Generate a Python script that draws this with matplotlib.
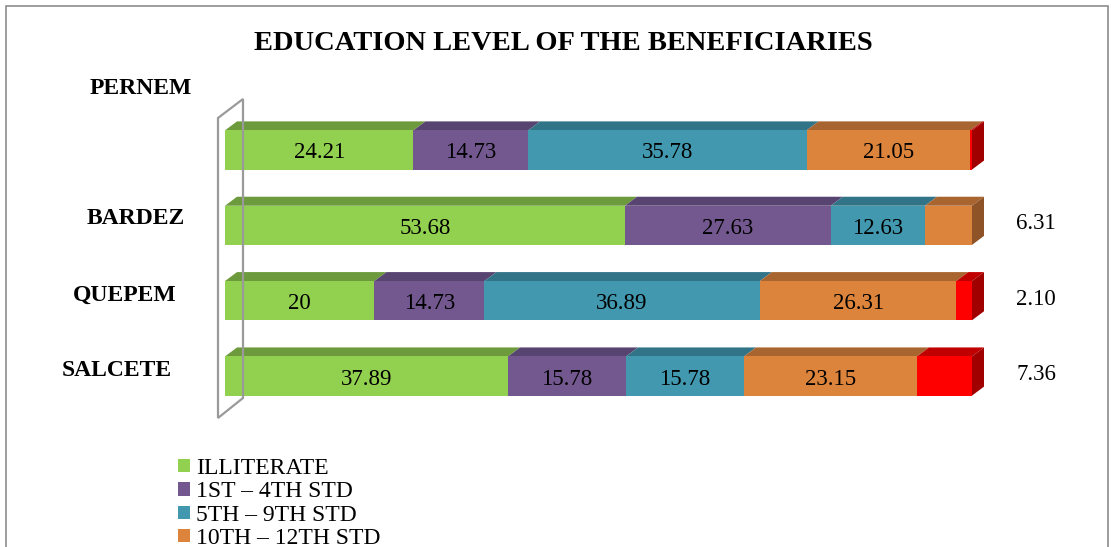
import matplotlib
matplotlib.use("Agg")
import matplotlib.pyplot as plt
from matplotlib.patches import Polygon, Rectangle, Patch
import numpy as np

plt.rcParams['font.family'] = ['Liberation Serif', 'DejaVu Serif']

# ---------------- data ----------------
categories = ["PERNEM", "BARDEZ", "QUEPEM", "SALCETE"]
series_names = ["ILLITERATE", "1ST \u2013 4TH STD", "5TH \u2013 9TH STD", "10TH \u2013 12TH STD", "GRADUATE"]
illiterate = [24.21, 53.68, 20, 37.89]
std_1_4 = [14.73, 27.63, 14.73, 15.78]
std_5_9 = [35.78, 12.63, 36.89, 15.78]
std_10_12 = [21.05, 6.31, 26.31, 23.15]
graduate = [0.2, 0, 2.10, 7.36]
label_texts = [
    ["24.21", "14.73", "35.78", "21.05", ""],
    ["53.68", "27.63", "12.63", "6.31", ""],
    ["20", "14.73", "36.89", "26.31", "2.10"],
    ["37.89", "15.78", "15.78", "23.15", "7.36"],
]
# labels drawn to the right of the bar instead of inside (row, series)
outside_labels = [(1, 3), (2, 4), (3, 4)]

# ---------------- styles ----------------
front_colors = ["#92D050", "#72588F", "#4198AF", "#DD843C", "#FF0000"]
top_colors = ["#6C9A3C", "#584470", "#317487", "#A8652F", "#C00000"]
side_colors = ["#5E8734", "#4A3A60", "#2A6373", "#8E5427", "#A00000"]

W, H = 1111, 547
fig = plt.figure(figsize=(W / 100, H / 100), dpi=100)

# axes placement in pixels
ax_left, ax_right = 225, 972
ax_top, ax_bottom = 112.3, 413.7
ax = fig.add_axes([ax_left / W, (H - ax_bottom) / H, (ax_right - ax_left) / W, (ax_bottom - ax_top) / H])
ax.set_xlim(0, 100)
ax.set_ylim(3.5, -0.5)
ax.axis("off")

px_per_x = (ax_right - ax_left) / 100.0
px_per_y = (ax_bottom - ax_top) / 4.0
ddx = 12 / px_per_x
ddy = 9 / px_per_y
bar_h = 0.52

data = np.array([illiterate, std_1_4, std_5_9, std_10_12, graduate], dtype=float)  # series x rows
totals = data.sum(axis=0)
pct = data / totals * 100.0
ypos = np.arange(len(categories))

lefts = np.zeros(len(categories))
handles = []
for s in range(data.shape[0]):
    bc = ax.barh(ypos, pct[s], left=lefts, height=bar_h, color=front_colors[s],
                 edgecolor="none", label=series_names[s], zorder=2)
    handles.append(bc)
    for i in range(len(categories)):
        w = pct[s, i]
        if w <= 0:
            continue
        l = lefts[i]
        yt = ypos[i] - bar_h / 2
        top = Polygon([(l, yt), (l + w, yt), (l + w + ddx, yt - ddy), (l + ddx, yt - ddy)],
                      closed=True, facecolor=top_colors[s], edgecolor="none", zorder=1, clip_on=False)
        ax.add_patch(top)
    lefts = lefts + pct[s]

# right side faces (last non-zero segment)
for i in range(len(categories)):
    nz = [s for s in range(data.shape[0]) if data[s, i] > 0]
    s = nz[-1]
    R = pct[:, i].sum()
    yt = ypos[i] - bar_h / 2
    yb = ypos[i] + bar_h / 2
    side = Polygon([(R, yt), (R + ddx, yt - ddy), (R + ddx, yb - ddy), (R, yb)],
                   closed=True, facecolor=side_colors[s], edgecolor="none", zorder=1, clip_on=False)
    ax.add_patch(side)

# data labels
cum = np.cumsum(pct, axis=0) - pct
for i in range(len(categories)):
    for s in range(data.shape[0]):
        txt = label_texts[i][s]
        if not txt:
            continue
        if (i, s) in outside_labels:
            ax.text(108.6, ypos[i] - 0.02, txt, ha="center", va="center", fontsize=16.5,
                    color="black", clip_on=False)
        else:
            ax.text(cum[s, i] + pct[s, i] / 2, ypos[i] + 0.04, txt, ha="center", va="center",
                    fontsize=16.5, color="black", clip_on=False)

# category labels (placed like the original 3D layout)
cat_label_px = [(141, 88), (136, 218), (125, 295), (117, 370)]
for name, (px, py) in zip(categories, cat_label_px):
    fig.text(px / W, 1 - py / H, name, ha="center", va="center", fontsize=17, fontweight="bold")

# 3D wall outline at the category axis
wall_px = [(218, 118), (243, 99), (243, 398), (218, 418)]
wall = Polygon([(x / W, 1 - y / H) for x, y in wall_px], closed=True, facecolor="none",
               edgecolor="#9A9A9A", linewidth=1.6, transform=fig.transFigure, zorder=0)
fig.patches.append(wall)

# chart frame
frame = Rectangle((6 / W, -0.1), (1108 - 6) / W, (H - 6) / H + 0.1, transform=fig.transFigure,
                  facecolor="none", edgecolor="#8C8C8C", linewidth=1.2)
fig.patches.append(frame)

# title
fig.text(563 / W, 1 - 44 / H, "EDUCATION LEVEL OF THE BENEFICIARIES", ha="center", va="center",
         fontsize=20.5, fontweight="bold")

# legend (only first four entries fit inside the visible area)
leg_handles = [Patch(facecolor=front_colors[s], edgecolor="none") for s in range(4)]
fig.legend(leg_handles, series_names[:4], loc="upper left",
           bbox_to_anchor=(178 / W, 1 - 458 / H), frameon=False, fontsize=17,
           handlelength=0.5, handleheight=0.5, handletextpad=0.25, labelspacing=0.1,
           borderpad=0, borderaxespad=0)

fig.savefig("out.png", dpi=100)
